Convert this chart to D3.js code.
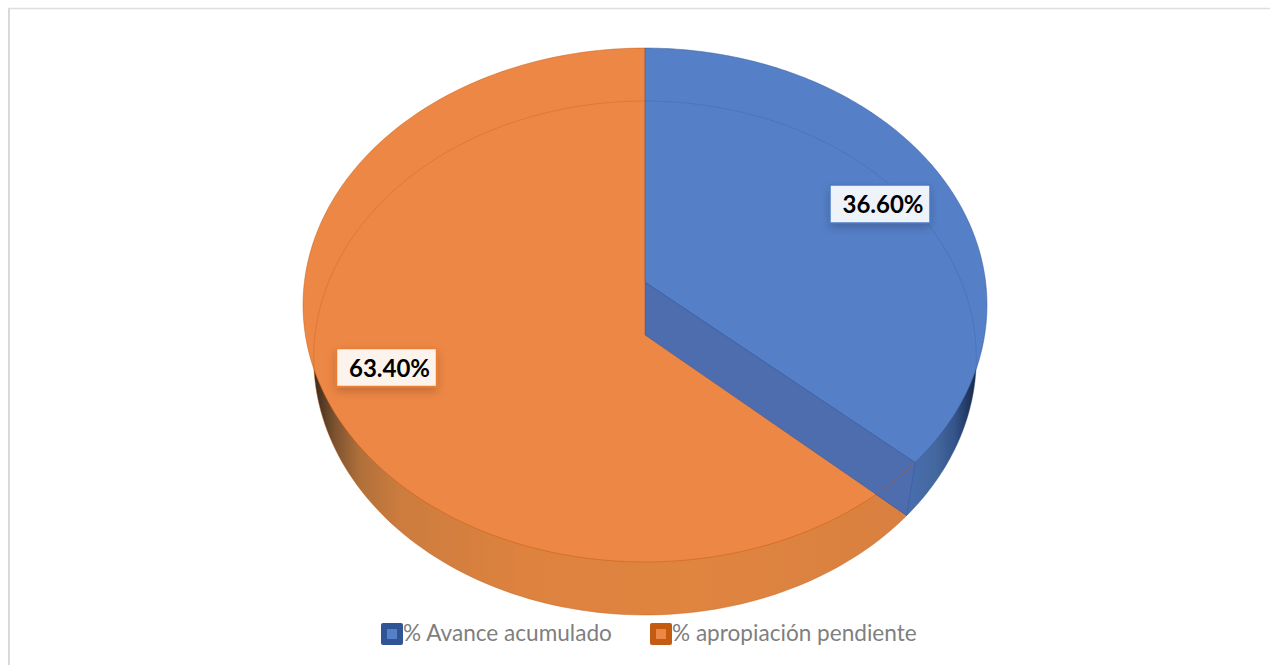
<!DOCTYPE html>
<html><head><meta charset="utf-8">
<script src="https://cdn.jsdelivr.net/npm/d3@7"></script>
<style>html,body{margin:0;background:#fff}svg{display:block}</style></head>
<body><svg id="c" width="1270" height="665"></svg>
<script>
const categories = ["% Avance acumulado", "% apropiación pendiente"];
const values = [36.6, 63.4];
const valueLabels = ["36.60%", "63.40%"];
const faceColors = ["#5580c8", "#ed8745"];
const edgeColors = ["#2f5597", "#c55a11"];

const svg = d3.select("#c");
svg.append("line").attr("x1",9).attr("x2",9).attr("y1",8).attr("y2",665).attr("stroke","#d9d9d9").attr("stroke-width",2);
svg.append("line").attr("x1",8).attr("x2",1270).attr("y1",8.5).attr("y2",8.5).attr("stroke","#dedede").attr("stroke-width",1.5);

const defs = svg.append("defs");
function grad(id, stops){
  const g = defs.append("linearGradient").attr("id",id).attr("gradientUnits","userSpaceOnUse")
    .attr("x1",stops[0][0]).attr("x2",stops[stops.length-1][0]).attr("y1",0).attr("y2",0);
  const x0=stops[0][0], x1=stops[stops.length-1][0];
  stops.forEach(s=>g.append("stop").attr("offset",(s[0]-x0)/(x1-x0)).attr("stop-color",s[1]));
}
grad("sideO",[[312,"#33251a"],[335,"#7d5330"],[360,"#b0703a"],[400,"#cc7c3e"],[520,"#dd823f"],[700,"#e08540"],[910,"#d98040"]]);
grad("sideB",[[900,"#4a70b4"],[935,"#44689f"],[955,"#34548a"],[968,"#22375f"],[980,"#16233c"]]);
const shadow = defs.append("filter").attr("id","sh").attr("x","-20%").attr("y","-30%").attr("width","140%").attr("height","170%");
shadow.append("feDropShadow").attr("dx",0).attr("dy",4).attr("stdDeviation",5).attr("flood-color","#000").attr("flood-opacity",0.2);

// perspective projection of a disc
const persp = 0.0895, cx = 645;
const topPlane = {a:340.6, b:254.9, y:282};
const botPlane = {a:330, b:254.9, y:335};
function proj(p, t){
  const u=Math.sin(t), v=-Math.cos(t), w=1-persp*v;
  return [cx+p.a*u/w, p.y+p.b*v/w];
}
const pie = d3.pie().sort(null).value(d=>d)(values);
const line = d3.line();
function arcPts(p, a0, a1){
  const n=160;
  return d3.range(n+1).map(i=>proj(p,a0+(a1-a0)*i/n));
}
function wedge(p, d){
  return line([[cx,p.y],...arcPts(p,d.startAngle,d.endAngle)])+"Z";
}
function rim(p){
  return line(arcPts(p,0,2*Math.PI))+"Z";
}
const [B,O]=pie;
// sides
svg.append("path").attr("d",wedge(botPlane,O)).attr("fill","url(#sideO)").attr("stroke",edgeColors[1]).attr("stroke-opacity",.55).attr("stroke-width",.8);
svg.append("path").attr("d",wedge(botPlane,B)).attr("fill","url(#sideB)").attr("stroke",edgeColors[0]).attr("stroke-opacity",.5).attr("stroke-width",.8);
// faces
svg.append("path").attr("d",wedge(topPlane,O)).attr("fill",faceColors[1]).attr("stroke",edgeColors[1]).attr("stroke-opacity",.6).attr("stroke-width",.8);
// cut face of blue slice
const c1=proj(topPlane,B.endAngle), c2=proj(botPlane,B.endAngle);
svg.append("path").attr("d",line([[cx,topPlane.y],c1,c2,[cx,botPlane.y]])+"Z")
  .attr("fill","#4d6dae").attr("stroke",edgeColors[0]).attr("stroke-opacity",.5).attr("stroke-width",.8);
svg.append("path").attr("d",wedge(topPlane,B)).attr("fill",faceColors[0]).attr("stroke",edgeColors[0]).attr("stroke-opacity",.6).attr("stroke-width",.8);
// far rim seen through the translucent face
svg.append("clipPath").attr("id","cb").append("path").attr("d",wedge(topPlane,B));
svg.append("clipPath").attr("id","co").append("path").attr("d",wedge(topPlane,O));
svg.append("path").attr("d",rim(botPlane)).attr("fill","none").attr("stroke","#2f5597").attr("stroke-opacity",.3).attr("stroke-width",.8)
  .attr("clip-path","url(#cb)");
svg.append("path").attr("d",rim(botPlane)).attr("fill","none").attr("stroke","#c55a11").attr("stroke-opacity",.4).attr("stroke-width",.8)
  .attr("clip-path","url(#co)");
// the orange front edge carries on across the cut face
svg.append("path").attr("d",line(arcPts(topPlane,B.endAngle,B.endAngle+0.15)))
  .attr("fill","none").attr("stroke","#c55a11").attr("stroke-opacity",.6).attr("stroke-width",.9);

// labels
const labelPos=[[880,204],[386.5,367.5]];
const labelFill=["#eef2f9","#fdf3ed"];
const lg=svg.selectAll("g.l").data(pie).join("g").attr("class","l").attr("transform",(d,i)=>`translate(${labelPos[i]})`);
lg.append("rect").attr("x",-50).attr("y",-19).attr("width",100).attr("height",38)
  .attr("fill",(d,i)=>labelFill[i]).attr("stroke",(d,i)=>i?"#ed7d31":"#4a78c4").attr("stroke-width",1.5).attr("filter","url(#sh)");
lg.append("text").attr("text-anchor","middle").attr("x",3).attr("y",9).attr("font-family","Lato").attr("font-weight",700).attr("font-size",24)
  .attr("fill","#000").text((d,i)=>valueLabels[i]);

// legend
const legX=[381,650];
const leg=svg.selectAll("g.k").data(categories).join("g").attr("class","k").attr("transform",(d,i)=>`translate(${legX[i]},623)`);
leg.append("rect").attr("width",22).attr("height",22).attr("rx",2).attr("fill",(d,i)=>edgeColors[i]);
leg.append("rect").attr("x",6).attr("y",6).attr("width",10).attr("height",10).attr("fill",(d,i)=>faceColors[i]);
leg.append("text").attr("x",22).attr("y",18).attr("font-family","Lato").attr("font-size",22.6).attr("fill","#7f7f7f").text(d=>d);
</script></body></html>
